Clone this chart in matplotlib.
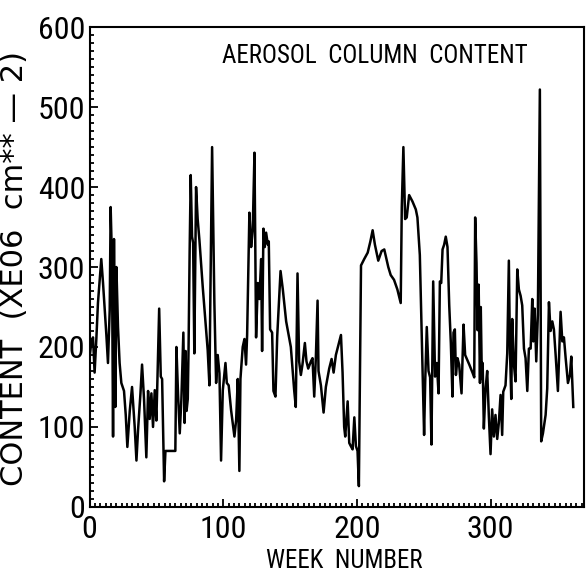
import matplotlib.pyplot as plt
from matplotlib.ticker import MultipleLocator

# weekly aerosol column content
week = [0, 1.2, 2.5, 3.7, 5, 6.2, 8.7, 10, 12.5, 13.7, 15, 15.7, 16.7, 17.5, 18.2, 19.2, 20,
        21.2, 22.4, 23.7, 25.7, 27, 28.2, 30, 31.7, 33.7, 35, 36.2, 38, 39.2, 40.7, 42.4, 43.7,
        44.9, 46.2, 47.4, 48.7, 49.9, 50.7, 52, 53.2, 54.2, 55.7, 56.7, 64.1, 64.9, 66.1, 67.4,
        68.6, 70.1, 71, 71.8, 72.5, 73.4, 74, 74.8, 75.6,
        76.6, 77.4, 78.3, 79.6, 80.8, 82.1, 84.6, 87.1, 88.3, 89.6, 90.3, 91.6, 93.3, 94.6, 95.8,
        97.1, 98.3, 99.6, 101.6, 102.6, 104, 105.8, 108.3, 109.6, 110.8, 112, 112.8, 114.5, 115.8,
        117, 117.8, 119.5, 120.8, 122, 123.3, 124.5, 125.8, 127, 128.3, 129, 130, 131, 132, 133.3,
        134, 135, 136.5, 137.5, 139, 140.3, 142.8, 144.5, 147,
        150.5, 153, 154.2, 155.5, 156.7, 158, 159.2, 161, 162.2, 163.5, 165.5, 166.7, 168, 169.2,
        170.5, 171.2, 173, 175, 176.7, 179.2, 181, 182.5, 184.2, 188, 189.2, 190.4, 191.2, 193,
        194.2, 195.4, 196.7, 198, 199.2, 200.4, 201.4, 203, 205.4, 208, 210, 211.7, 213.4, 215.9,
        218.4, 220.4, 223.4,
        225.2, 227.7, 230.2, 232.7, 233.5, 234.7, 236, 237.2, 239, 241.5, 244, 245.2, 247, 248.5,
        250.2, 251, 252.2, 253.5, 254.7, 255.7, 257, 258.4, 259.7, 261, 262, 263, 264, 265.2,
        266.4, 267.7, 269, 270.2, 271.4, 272.2, 273.2, 274, 275.2, 276.4, 278.2, 279.7, 280.9,
        284, 286.4, 287.7, 288.4, 289.4, 290.2, 291, 292, 292.6, 293.4, 294, 294.9,
        296.1, 297.4, 298.6, 299.9, 301.1, 302.4, 303.6, 304.9, 306.1, 307.4, 308.6, 309.4, 311.1,
        312.4, 313.6, 314.4, 315.4, 316.1, 317.4, 318.6, 319.9, 321.1, 322.4, 323.6, 324.9, 326.1,
        327.4, 328.6, 329.9, 331.1, 331.9, 332.9, 334.1, 335.3, 336.8, 337.8, 339.1, 341.1, 342.3,
        343.6, 344.8, 346.1, 347.3, 348.6, 350.3, 351.6, 352.3, 353.6, 354.8, 356.1, 357.8, 359.3,
        360.3, 361.8]

content = [188, 205, 212, 168, 210, 255, 310, 280, 215, 180, 246, 375, 309, 88, 335, 125, 300,
           225, 180, 155, 145, 115, 75, 120, 150, 100, 58, 96, 142, 178, 134, 62, 145,
           110, 142, 100, 146, 108, 159, 248, 163, 160, 32, 70, 70, 200, 142, 92,
           134, 218, 105, 195, 120, 135, 200, 320, 415,
           338, 330, 192, 400, 360, 334, 275, 221, 196, 152, 263, 450, 255, 155, 190,
           167, 58, 146, 180, 155, 152, 121, 88, 109, 160, 45, 160, 200, 210,
           178, 215, 368, 325, 346, 443, 212, 280, 260, 310, 195, 348, 325, 343, 328,
           332, 222, 218, 145, 138, 213, 295, 272, 232,
           200, 146, 125, 292, 182, 165, 178, 205, 182, 173, 182, 186, 138, 186,
           258, 170, 152, 118, 150, 173, 185, 168, 190, 215, 168, 100, 88, 132,
           80, 76, 72, 112, 76, 70, 26, 302, 310, 318, 332, 346, 328, 308,
           320, 322, 300,
           290, 284, 272, 255, 375, 450, 360, 362, 390, 382, 372, 362, 315, 210,
           90, 155, 225, 170, 162, 78, 282, 163, 180, 142, 282, 280, 322, 328,
           338, 325, 252, 205, 138, 218, 222, 165, 186, 178, 142, 228, 190,
           178, 168, 162, 362, 305, 221, 278, 155, 250, 160, 180, 98,
           146, 170, 115, 66, 122, 88, 115, 85, 105, 140, 90, 144, 152,
           192, 308, 198, 135, 235, 178, 157, 297, 272, 264, 252, 198, 186,
           145, 198, 198, 260, 207, 248, 182, 240, 522, 82, 92, 115, 148,
           256, 220, 232, 222, 190, 145, 210, 244, 207, 212, 186, 155, 165,
           188, 125]

narrow = ['Roboto Condensed', 'Liberation Sans Narrow', 'Roboto', 'DejaVu Sans']

fig = plt.figure(figsize=(5.86, 5.78), dpi=100)
ax = fig.add_axes([0.153, 0.123, 0.844, 0.830])

ax.plot(week, content, color='black', lw=1.8)

ax.set_xlim(0, 370)
ax.set_ylim(0, 600)
ax.xaxis.set_major_locator(MultipleLocator(100))
ax.xaxis.set_minor_locator(MultipleLocator(4))
ax.yaxis.set_major_locator(MultipleLocator(100))
ax.yaxis.set_minor_locator(MultipleLocator(10))
ax.tick_params(which='both', direction='in', top=False, right=False, width=1.3)
ax.tick_params(which='major', length=6, labelsize=23)
ax.tick_params(axis='y', which='major', pad=3)
ax.tick_params(axis='x', which='major', pad=6)
ax.tick_params(which='minor', length=3)
for lab in ax.get_xticklabels() + ax.get_yticklabels():
    lab.set_family(narrow)
    lab.set_stretch('condensed')
for s in ax.spines.values():
    s.set_linewidth(1.5)

ax.text(0.576, 0.94, 'AEROSOL  COLUMN  CONTENT', transform=ax.transAxes,
        ha='center', va='center', fontsize=18, family=narrow, stretch='condensed')
ax.set_xlabel('WEEK  NUMBER', fontsize=18, family=narrow, stretch='condensed')
ax.xaxis.set_label_coords(0.514, -0.088)
ax.set_ylabel('CONTENT  (XE06  cm** \u2014 2)', fontsize=22)
ax.yaxis.set_label_coords(-0.122, 0.496)

fig.savefig('out.png', dpi=100)
